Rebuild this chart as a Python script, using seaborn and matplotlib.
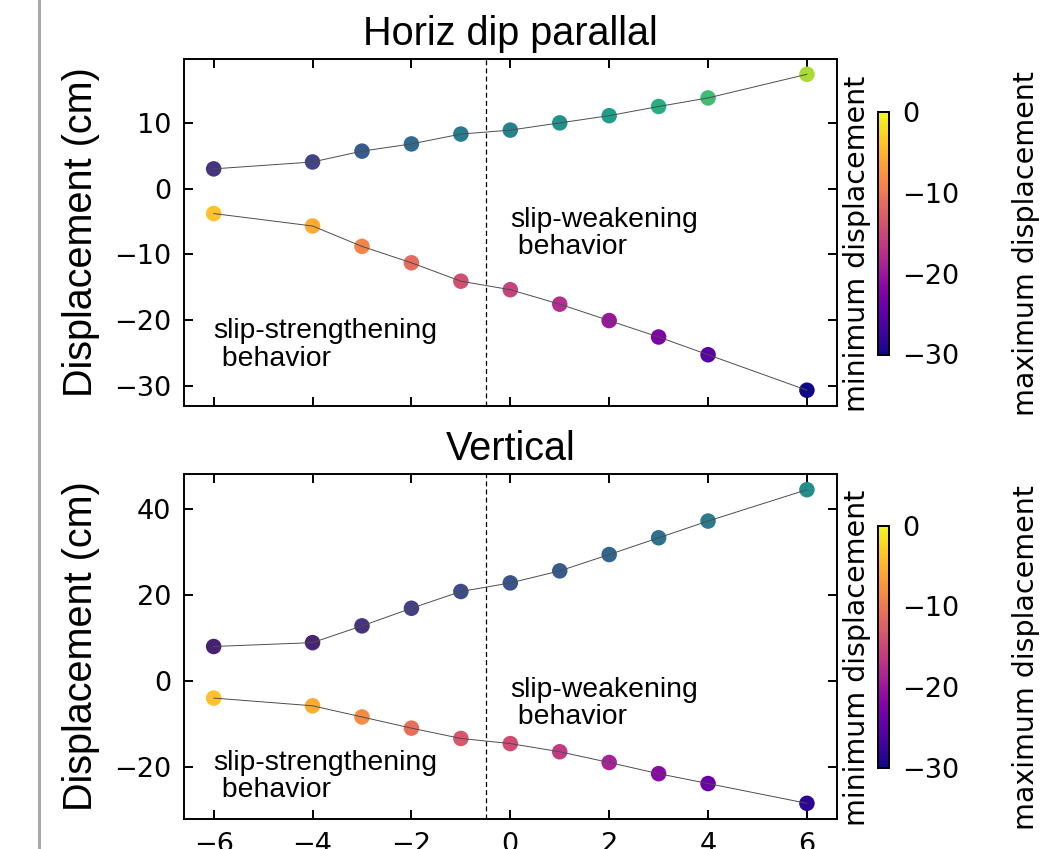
import numpy as np
import pandas as pd
import matplotlib
matplotlib.use("Agg")
import matplotlib.pyplot as plt
import seaborn as sns
from matplotlib.lines import Line2D
from matplotlib.cm import ScalarMappable
from matplotlib.colors import Normalize

# ---------------- data ----------------
x_vals = [-6, -4, -3, -2, -1, 0, 1, 2, 3, 4, 6]

horiz_max = [3.0, 4.05, 5.7, 6.8, 8.3, 8.9, 10.0, 11.1, 12.5, 13.8, 17.4]
horiz_min = [-3.8, -5.7, -8.8, -11.3, -14.1, -15.4, -17.6, -20.1, -22.6, -25.3, -30.7]

vert_max = [8.1, 9.0, 12.9, 17.0, 20.9, 22.9, 25.7, 29.5, 33.4, 37.3, 44.6]
vert_min = [-3.9, -5.7, -8.3, -10.9, -13.3, -14.5, -16.4, -18.9, -21.5, -23.8, -28.4]

titles = ["Horiz dip parallal", "Vertical"]
ylabel = "Displacement (cm)"
max_norms = [(0, 20), (0, 90)]
min_norm = (-30, 0)
cbar_ticks = [0, -10, -20, -30]
boundary_x = -0.5
strength_text = "slip-strengthening\n behavior"
weaken_text = "slip-weakening\n behavior"

# ---------------- style ----------------
sns.set_style("ticks")
plt.rcParams["font.family"] = ["DejaVu Sans"]
for key in ["text.color", "axes.labelcolor", "xtick.color", "ytick.color",
            "axes.edgecolor"]:
    plt.rcParams[key] = "black"
ARIAL = ["Liberation Sans", "DejaVu Sans"]

fig = plt.figure(figsize=(10.43, 8.49), dpi=100)
W, H = 1043.0, 849.0

def fx(px):
    return px / W

def fy(py):
    return 1 - py / H

ax_rects = [
    (fx(184), fy(406), fx(836.6) - fx(184), (406 - 58.5) / H),
    (fx(184), fy(819), fx(836.6) - fx(184), (819 - 474) / H),
]
cb_rects = [
    (fx(878), fy(354.5), fx(889.3) - fx(878), (354.5 - 112.3) / H),
    (fx(878), fy(767.7), fx(889.3) - fx(878), (767.7 - 525.7) / H),
]
label_y = [244, 658]

panels = [(horiz_max, horiz_min), (vert_max, vert_min)]

for i, (ymax_vals, ymin_vals) in enumerate(panels):
    ax = fig.add_axes(ax_rects[i])
    df = pd.DataFrame({"x": x_vals, "ymax": ymax_vals, "ymin": ymin_vals})

    sns.scatterplot(data=df, x="x", y="ymax", hue="ymax", palette="viridis",
                    hue_norm=max_norms[i], s=125, linewidth=0, legend=False,
                    ax=ax, zorder=2)
    sns.scatterplot(data=df, x="x", y="ymin", hue="ymin", palette="plasma",
                    hue_norm=min_norm, s=125, linewidth=0, legend=False,
                    ax=ax, zorder=2)
    sns.lineplot(data=df, x="x", y="ymax", color="0.3", lw=0.7, ax=ax,
                 zorder=3, errorbar=None)
    sns.lineplot(data=df, x="x", y="ymin", color="0.3", lw=0.7, ax=ax,
                 zorder=3, errorbar=None)

    ax.axvline(boundary_x, color="k", lw=0.9, ls=(0, (4, 2.5)), zorder=1)

    ax.text(-6, -27, strength_text, fontsize=20.4, family=ARIAL,
            ha="left", va="baseline", linespacing=1.08)
    ax.text(0, -10, weaken_text, fontsize=20.4, family=ARIAL,
            ha="left", va="baseline", linespacing=1.08)

    ax.set_title(titles[i], fontsize=28.5, family=ARIAL, pad=10)
    ax.set_ylabel(ylabel, fontsize=28.5, family=ARIAL, labelpad=10)
    ax.set_xlabel("")
    ax.tick_params(axis="both", which="both", direction="in", top=True,
                   right=True, length=6.5, width=1.4, labelsize=19.5, pad=9)
    for sp in ax.spines.values():
        sp.set_linewidth(1.4)
    ax.set_xticks([-6, -4, -2, 0, 2, 4, 6])
    if i == 0:
        ax.tick_params(axis="x", labelbottom=False)

    # colorbar for minimum displacement
    cax = fig.add_axes(cb_rects[i])
    sm = ScalarMappable(norm=Normalize(*min_norm), cmap="plasma")
    cb = fig.colorbar(sm, cax=cax, ticks=cbar_ticks)
    cb.outline.set_linewidth(1.4)
    cax.tick_params(length=0, labelsize=19.5, pad=9)

    fig.text(fx(857), fy(label_y[i]), "minimum displacement", rotation=90,
             ha="center", va="center", fontsize=20.5)
    fig.text(fx(1025.5), fy(label_y[i]), "maximum displacement", rotation=90,
             ha="center", va="center", fontsize=20.5)

# gray divider line at the left
fig.add_artist(Line2D([fx(38.5), fx(38.5)], [0, 1], color="#a9a9a9", lw=2.2,
                      transform=fig.transFigure))

fig.savefig("out.png", dpi=100)
